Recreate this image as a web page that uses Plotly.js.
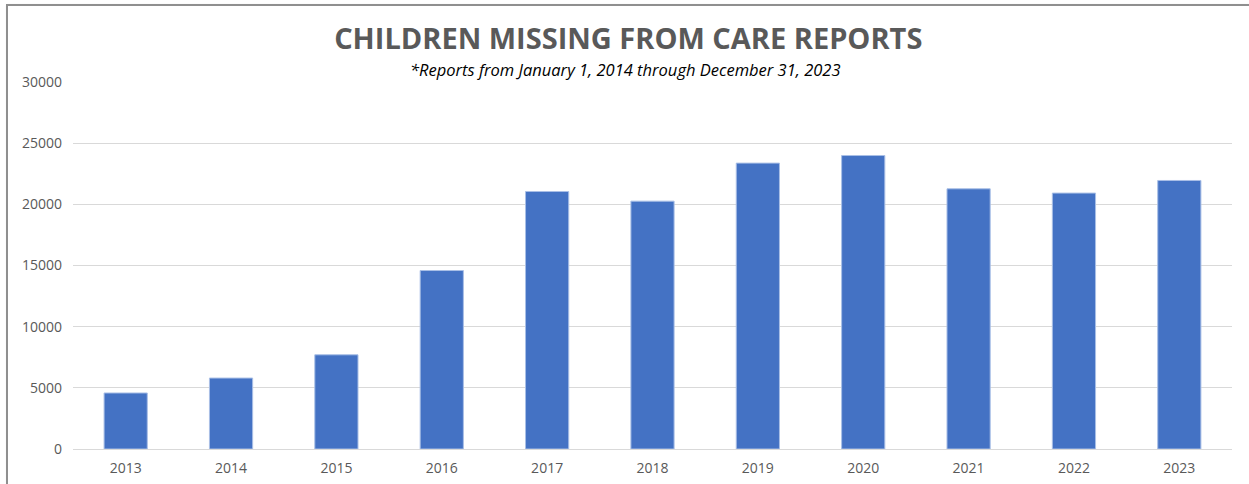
<!DOCTYPE html>
<html>
<head>
<meta charset="utf-8">
<script src="https://cdn.plot.ly/plotly-3.0.1.min.js"></script>
<style>
  html, body { margin: 0; padding: 0; background: #ffffff; overflow: hidden; }
  #frame { position: absolute; left: 6px; top: 4px; width: 1300px; height: 560px;
           border: 2px solid #8f8f8f; box-shadow: 1px 1px 2px #cfcfcf; pointer-events: none; z-index: 2; }
  #chart { position: absolute; left: 0; top: 0; width: 1249px; height: 484px; }
</style>
</head>
<body>
<div id="chart"></div>
<div id="frame"></div>
<script>
const years = ["2013","2014","2015","2016","2017","2018","2019","2020","2021","2022","2023"];
const reports = [4580, 5800, 7700, 14590, 21050, 20260, 23370, 23990, 21270, 20920, 21950];
const yTicks = [0, 5000, 10000, 15000, 20000, 25000, 30000];
const titleText = "CHILDREN MISSING FROM CARE REPORTS";
const subtitleText = "*Reports from January 1, 2014 through December 31, 2023";

const trace = {
  type: "bar",
  x: years,
  y: reports,
  marker: { color: "#4472C4", line: { color: "#a9bfe6", width: 1 } },
  hoverinfo: "x+y"
};

const layout = {
  width: 1249, height: 484,
  margin: { l: 73, r: 17, t: 82, b: 35, pad: 0 },
  paper_bgcolor: "#ffffff",
  plot_bgcolor: "#ffffff",
  bargap: 0.59,
  showlegend: false,
  font: { family: "Open Sans, sans-serif", color: "#595959", size: 14 },
  title: {
    text: "<b>" + titleText + "</b>",
    font: { family: "Open Sans, sans-serif", size: 29, color: "#595959" },
    xref: "container", x: 0.503, xanchor: "center",
    yref: "container", y: 1 - 39/484, yanchor: "middle"
  },
  annotations: [{
    text: "<i>" + subtitleText + "</i>",
    xref: "paper", yref: "paper",
    x: (625 - 73) / (1232 - 73), y: 1 + (82 - 69) / (449 - 82),
    xanchor: "center", yanchor: "middle",
    showarrow: false,
    font: { family: "Open Sans, sans-serif", size: 16.5, color: "#000000" }
  }],
  xaxis: {
    type: "category",
    showgrid: false,
    showline: true, linecolor: "#d9d9d9", linewidth: 1,
    ticks: "", ticklabelstandoff: 6,
    tickfont: { size: 14, color: "#595959" },
    zeroline: false, fixedrange: true
  },
  yaxis: {
    range: [0, 30000],
    tickvals: yTicks,
    ticktext: yTicks.map(String),
    showgrid: true, gridcolor: "#d9d9d9", gridwidth: 1,
    zeroline: false, showline: false,
    ticks: "", ticklabelstandoff: 10,
    tickfont: { size: 14, color: "#595959" },
    fixedrange: true
  }
};

Plotly.newPlot("chart", [trace], layout, { displayModeBar: false, staticPlot: true });
</script>
</body>
</html>
